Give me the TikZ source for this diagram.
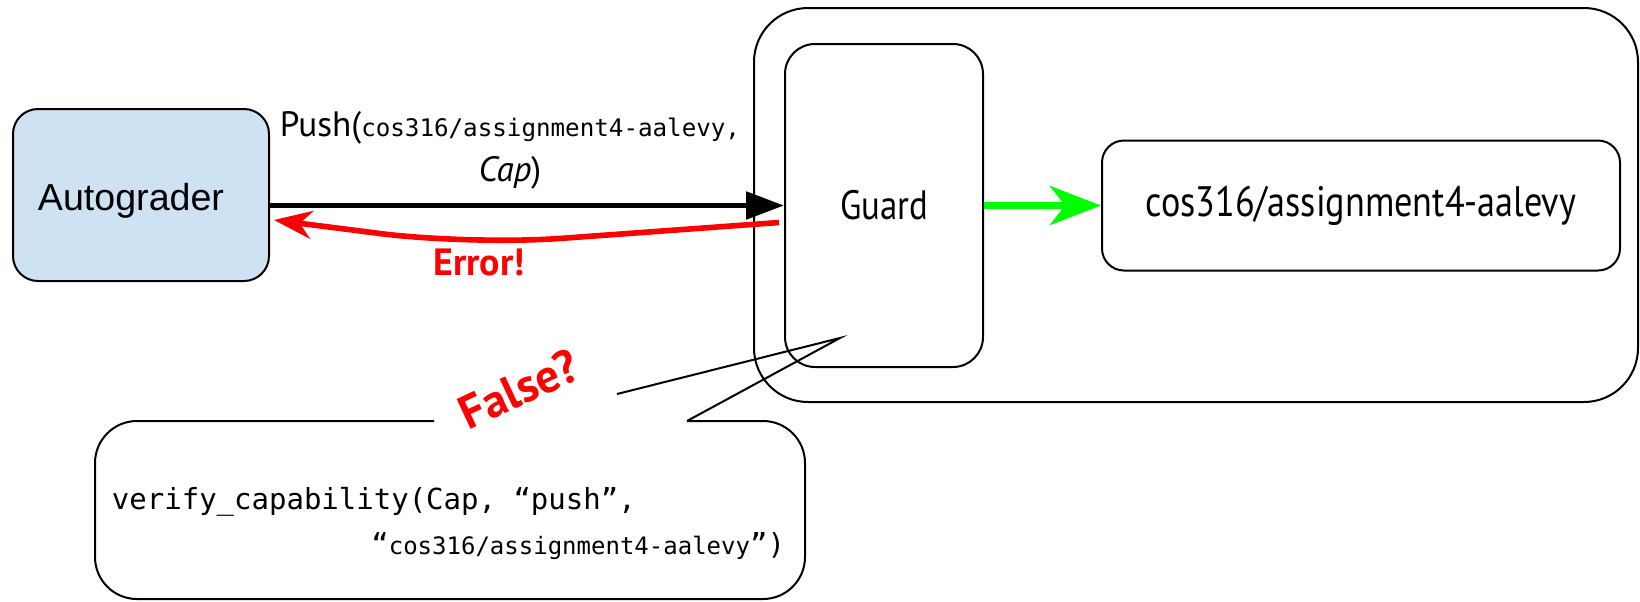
\documentclass[tikz,border=0pt]{standalone}
\usepackage{fontspec}
\usetikzlibrary{arrows.meta, calc, positioning}
\setmainfont{PT Sans}
\setmonofont{DejaVu Sans Mono}
\newfontfamily\condsans[FakeStretch=0.85]{PT Sans}
\newfontfamily\arialsans{Liberation Sans}
\definecolor{autoblue}{HTML}{CFE2F3}
\definecolor{okgreen}{HTML}{00FF00}
\definecolor{errred}{HTML}{FF0000}
\newcommand{\fsz}[2]{\fontsize{#1}{#2}\selectfont}

\begin{document}
\begin{tikzpicture}[
    x=0.5pt, y=-0.5pt,
    line width=1pt,
    box/.style={draw, rounded corners=#1, inner sep=0pt},
    lbl/.style={inner sep=0pt},
    flow/.style={line width=2.8pt},
]
\useasboundingbox (0,0) rectangle (1640,601);
% client
\node[box=12.5pt, fill=autoblue, minimum width=128pt, minimum height=86pt,
      font=\arialsans\fsz{18.8pt}{22pt}] (auto) at (141,195)
    {\raisebox{-3pt}[\height][\depth]{Autograder}\hspace*{10pt}};
% server: host, guard and repository
\node[box=27pt, minimum width=442pt, minimum height=197pt] (host) at (1196,205) {};
\node[box=15pt, minimum width=99pt, minimum height=161.5pt,
      font=\condsans\fsz{20.5pt}{24pt}] (guard) at (884,205.5) {Guard};
\node[box=11pt, minimum width=259pt, minimum height=65pt, right=58.5pt of guard,
      font=\condsans\fsz{21.3pt}{24pt}] (repo) {cos316/assignment4-aalevy};
% request, rejection, forwarding
\draw[flow, -{Triangle[length=19pt, width=13.5pt]}] (auto.east |- guard.west) -- (guard.west);
\draw[flow, errred, rounded corners=45pt,
      -{Stealth[length=19pt, width=14pt, inset=6pt]}]
    ($(guard.west)+(-5,17)$) -- (470,245) -- ($(auto.east)+(4,25)$);
\draw[flow, okgreen, line width=3.5pt, -{Stealth[length=25.5pt, width=19.5pt, inset=7.5pt]}] (guard.east) -- (repo.west);
\node[lbl, align=center, font=\fsz{17.6pt}{22.5pt}] (pushlbl) at (510,150)
    {Push({\ttfamily\fsz{12.1pt}{22.5pt}cos316/assignment4-aalevy,}\\\textit{Cap})};
\node[lbl, text=errred, font=\bfseries\fsz{19pt}{21pt}] (errlbl) at (479,262) {Error!};
% callout with pointer, open where the label sits
\draw[rounded corners=21pt] (434,421) -- (95,421) -- (95,599) -- (805,599) -- (805,421) -- (687,421);
\draw (687,421) -- (840,338) -- (617,394);
\node[lbl, rotate=25, text=errred, font=\bfseries\fsz{23.5pt}{26pt}] (falselbl) at (519,389) {False?};
\node[lbl, anchor=west, font=\ttfamily\fsz{14.5pt}{17pt}] (verif1) at (111,502)
    {verify\_capability(Cap, “push”,};
\node[lbl, anchor=east, font=\ttfamily\fsz{14.5pt}{17pt}] (verif2) at (786,546)
    {“{\fsz{12pt}{17pt}cos316/assignment4-aalevy}”)};
\end{tikzpicture}
\end{document}
